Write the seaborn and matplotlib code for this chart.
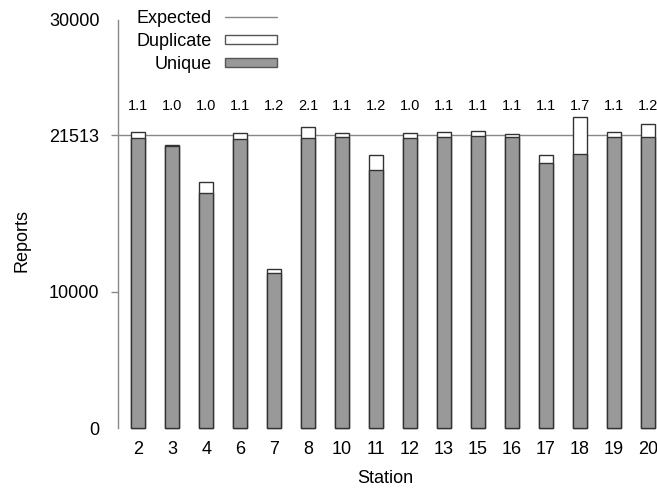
import pandas as pd
import matplotlib
matplotlib.use('Agg')
import matplotlib.pyplot as plt
import seaborn as sns
from matplotlib.patches import Patch
from matplotlib.lines import Line2D

# chart data
stations = ['2', '3', '4', '6', '7', '8', '10', '11', '12', '13', '15', '16', '17', '18', '19', '20']
unique = [21340, 20730, 17300, 21270, 11420, 21340, 21390, 18990,
          21340, 21390, 21440, 21365, 19480, 20140, 21390, 21390]
duplicate = [420, 100, 780, 415, 250, 785, 320, 1100,
             370, 390, 390, 270, 560, 2720, 390, 930]
ratio_labels = ['1.1', '1.0', '1.0', '1.1', '1.2', '2.1', '1.1', '1.2',
                '1.0', '1.1', '1.1', '1.1', '1.1', '1.7', '1.1', '1.2']
expected = 21513
y_ticks = [0, 10000, expected, 30000]

df = pd.DataFrame({'Station': stations, 'Unique': unique, 'Duplicate': duplicate})
df['Total'] = df['Unique'] + df['Duplicate']

sns.set_style('white')
plt.rcParams['font.family'] = ['Liberation Sans', 'DejaVu Sans']
plt.rcParams['text.color'] = 'black'
plt.rcParams['axes.labelcolor'] = 'black'

fs = 13

fig = plt.figure(figsize=(6.57, 4.91), dpi=100)
ax = fig.add_axes([0.179, 0.1283, 0.816, 0.831])

ax.axhline(expected, color='#888888', lw=1, zorder=0)

# total bar (white = duplicate part), then unique on top
sns.barplot(data=df, x='Station', y='Total', order=stations, color='white',
            edgecolor='#333333', linewidth=1, width=0.41, saturation=1, ax=ax, zorder=2)
sns.barplot(data=df, x='Station', y='Unique', order=stations, color='#999999',
            edgecolor='#333333', linewidth=1, width=0.41, saturation=1, ax=ax, zorder=3)
for p in ax.patches:
    p.set_clip_on(False)

for i, lab in enumerate(ratio_labels):
    ax.text(i, 23380, lab, ha='center', va='baseline', fontsize=10.5)

ax.set_xlim(-0.606, 15.17)
ax.set_ylim(0, 30000)
ax.set_yticks(y_ticks)
ax.set_yticklabels([str(t) for t in y_ticks])

for s in ['top', 'right', 'bottom']:
    ax.spines[s].set_visible(False)
ax.spines['left'].set_color('#888888')
ax.spines['left'].set_linewidth(1)

ax.tick_params(axis='y', length=5, width=1, color='#888888', labelcolor='black',
               pad=8, labelsize=fs, left=True)
ax.tick_params(axis='x', length=0, pad=9.2, labelsize=fs, labelcolor='black')
yt = ax.yaxis.get_major_ticks()
yt[0].tick1line.set_visible(False)
yt[-1].tick1line.set_visible(False)

ax.set_xlabel('Station', fontsize=fs)
ax.set_ylabel('Reports', fontsize=fs)
ax.yaxis.set_label_coords(-0.162, 0.46)
ax.xaxis.set_label_coords(0.5, -0.102)

handles = [Line2D([0], [0], color='#888888', lw=1),
           Patch(facecolor='white', edgecolor='#555555', lw=1),
           Patch(facecolor='#999999', edgecolor='#555555', lw=1)]
fig.legend(handles, ['Expected', 'Duplicate', 'Unique'], loc='upper right',
           bbox_to_anchor=(277 / 657, 1 - 10 / 491), frameon=False, markerfirst=False,
           fontsize=fs, borderpad=0, borderaxespad=0, handlelength=2.9,
           handleheight=0.46, labelspacing=0.33, handletextpad=0.72)

fig.savefig('out.png', dpi=100)
